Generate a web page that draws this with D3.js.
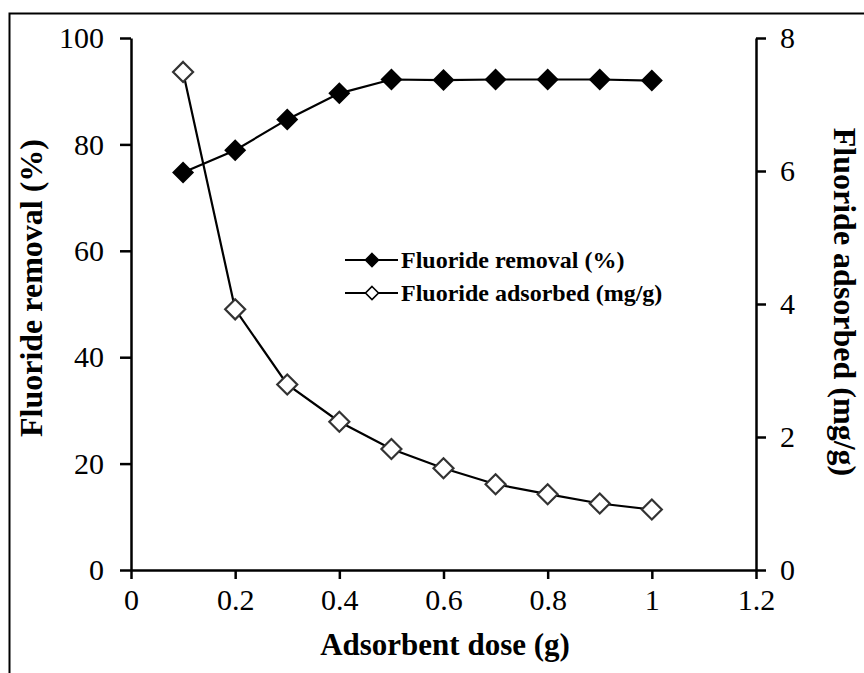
<!DOCTYPE html>
<html>
<head>
<meta charset="utf-8">
<script src="https://cdn.jsdelivr.net/npm/d3@7"></script>
<style>
  html, body { margin: 0; padding: 0; background: #fff; }
  svg { display: block; }
  text { font-family: "Liberation Serif", "Times New Roman", serif; fill: #000; }
</style>
</head>
<body>
<svg id="chart" width="864" height="673"></svg>
<script>
// Adsorbent dose (g)
const dose = [0.1, 0.2, 0.3, 0.4, 0.5, 0.6, 0.7, 0.8, 0.9, 1.0];
// Fluoride removal (%)
const removal = [74.7, 78.9, 84.7, 89.6, 92.2, 92.1, 92.2, 92.2, 92.2, 92.0];
// Fluoride adsorbed (mg/g)
const adsorbed = [7.49, 3.92, 2.79, 2.23, 1.82, 1.53, 1.29, 1.14, 1.00, 0.91];

const xTicks = [0, 0.2, 0.4, 0.6, 0.8, 1, 1.2];
const yLeftTicks = [0, 20, 40, 60, 80, 100];
const yRightTicks = [0, 2, 4, 6, 8];

const svg = d3.select("#chart");
const W = 864, H = 673;
const plotLeft = 131, plotRight = 756, plotTop = 38, plotBottom = 570;

// outer frame
svg.append("rect")
  .attr("x", 9.5).attr("y", 13.5)
  .attr("width", W + 20).attr("height", H + 20)
  .attr("fill", "none").attr("stroke", "#000").attr("stroke-width", 2);

const x = d3.scaleLinear().domain([0, 1.2]).range([plotLeft, plotRight]);
const yL = d3.scaleLinear().domain([0, 100]).range([plotBottom, plotTop]);
const yR = d3.scaleLinear().domain([0, 8]).range([plotBottom, plotTop]);

function styleAxis(g) {
  g.select(".domain").attr("stroke", "#000").attr("stroke-width", 2.5);
  g.selectAll(".tick line").attr("stroke", "#000").attr("stroke-width", 2.5);
  g.selectAll(".tick text")
    .style("font-family", '"Liberation Serif", "Times New Roman", serif')
    .style("font-size", "30px").attr("fill", "#000");
}

svg.append("g")
  .attr("transform", `translate(0,${plotBottom})`)
  .call(d3.axisBottom(x).tickValues(xTicks).tickSize(9).tickSizeOuter(0).tickPadding(10)
    .tickFormat(d => String(d)))
  .call(styleAxis);

svg.append("g")
  .attr("transform", `translate(${plotLeft},0)`)
  .call(d3.axisLeft(yL).tickValues(yLeftTicks).tickSize(11).tickSizeOuter(0).tickPadding(16)
    .tickFormat(d => String(d)))
  .call(styleAxis);

svg.append("g")
  .attr("transform", `translate(${plotRight},0)`)
  .call(d3.axisRight(yR).tickValues(yRightTicks).tickSize(10).tickSizeOuter(0).tickPadding(14)
    .tickFormat(d => String(d)))
  .call(styleAxis);

// axis titles
svg.append("text")
  .attr("x", 445).attr("y", 655)
  .attr("text-anchor", "middle")
  .style("font-size", "31px").style("font-weight", "bold")
  .text("Adsorbent dose (g)");

svg.append("text")
  .attr("transform", `translate(42,288) rotate(-90)`)
  .attr("text-anchor", "middle")
  .style("font-size", "32px").style("font-weight", "bold")
  .text("Fluoride removal (%)");

svg.append("text")
  .attr("transform", `translate(834,302) rotate(90)`)
  .attr("text-anchor", "middle")
  .style("font-size", "32px").style("font-weight", "bold")
  .text("Fluoride adsorbed (mg/g)");

const diamond = (cx, cy, r) => `M${cx},${cy - r}L${cx + r},${cy}L${cx},${cy + r}L${cx - r},${cy}Z`;

// removal series (filled diamonds, left axis)
const lineL = d3.line().x((d, i) => x(dose[i])).y(d => yL(d));
svg.append("path").datum(removal)
  .attr("d", lineL).attr("fill", "none").attr("stroke", "#000").attr("stroke-width", 2.2);

// adsorbed series (open diamonds, right axis)
const lineR = d3.line().x((d, i) => x(dose[i])).y(d => yR(d));
svg.append("path").datum(adsorbed)
  .attr("d", lineR).attr("fill", "none").attr("stroke", "#000").attr("stroke-width", 2.2);

svg.append("g").selectAll("path").data(removal).join("path")
  .attr("d", (d, i) => diamond(x(dose[i]), yL(d), 11))
  .attr("fill", "#000");

svg.append("g").selectAll("path").data(adsorbed).join("path")
  .attr("d", (d, i) => diamond(x(dose[i]), yR(d), 10))
  .attr("fill", "#fff").attr("stroke", "#333").attr("stroke-width", 2.2);

// legend
const legend = [
  { label: "Fluoride removal (%)", fill: "#000", y: 260 },
  { label: "Fluoride adsorbed (mg/g)", fill: "#fff", y: 293 }
];
const lg = svg.append("g");
legend.forEach(item => {
  lg.append("line").attr("x1", 345).attr("x2", 398).attr("y1", item.y).attr("y2", item.y)
    .attr("stroke", "#000").attr("stroke-width", 2);
  lg.append("path").attr("d", diamond(372, item.y, 6.5))
    .attr("fill", item.fill).attr("stroke", "#000").attr("stroke-width", 1.6);
  lg.append("text").attr("x", 401).attr("y", item.y + 8)
    .style("font-size", "24px").style("font-weight", "bold")
    .text(item.label);
});
</script>
</body>
</html>
